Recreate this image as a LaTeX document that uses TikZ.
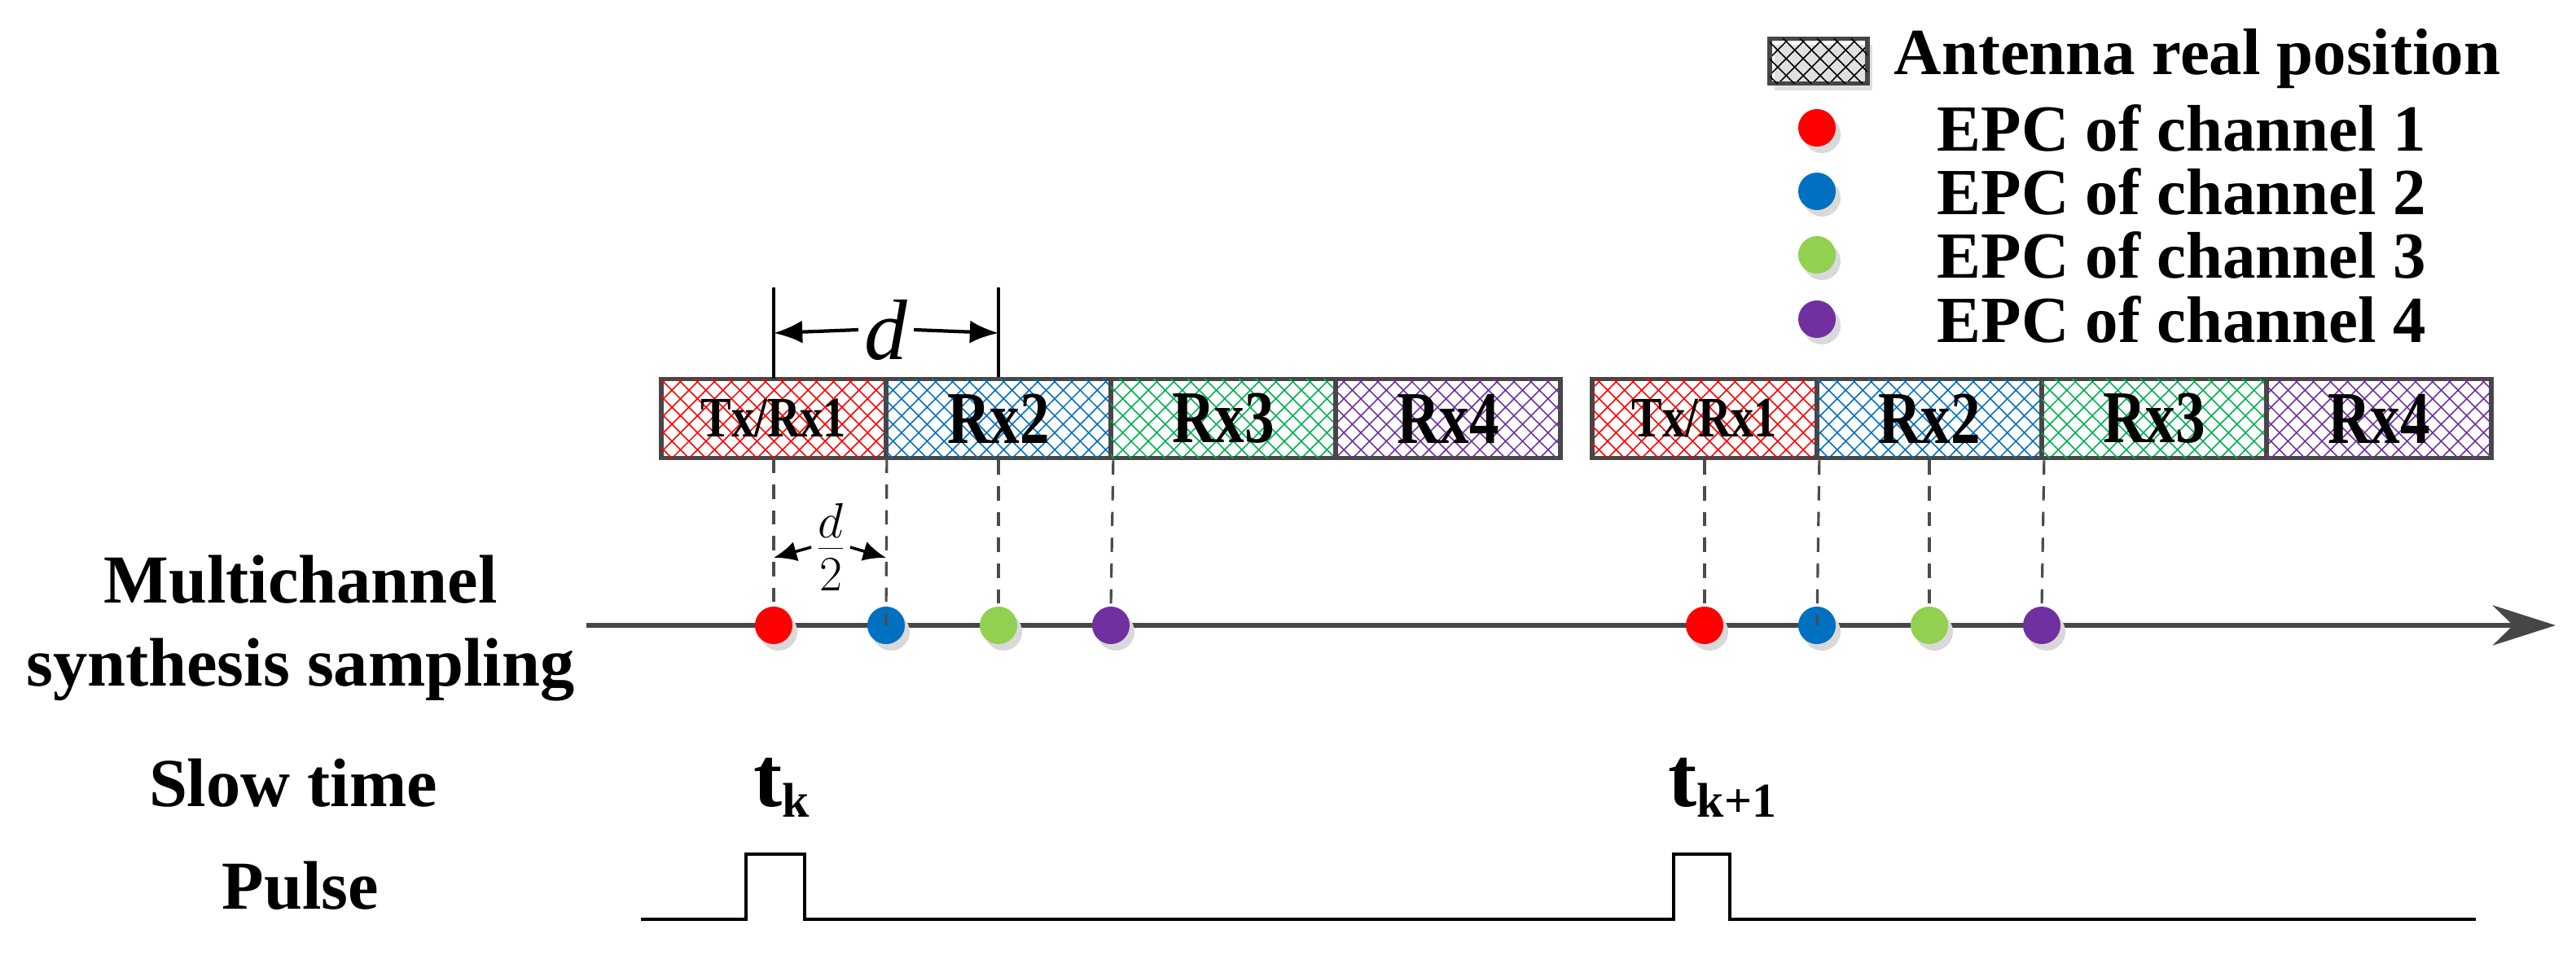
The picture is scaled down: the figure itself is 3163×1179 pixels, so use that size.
\documentclass[tikz,border=0pt]{standalone}
\usepackage{fontspec}
\setmainfont{Liberation Serif}
\usetikzlibrary{patterns.meta,arrows.meta}
\definecolor{cblue}{RGB}{0,112,192}
\definecolor{cgreen}{RGB}{0,176,80}
\definecolor{cpurple}{RGB}{112,48,160}
\definecolor{dgreen}{RGB}{146,208,80}
\definecolor{frame}{RGB}{70,70,70}
\begin{document}
\begin{tikzpicture}[x=0.01cm,y=-0.01cm,
  hatch/.style={pattern={Lines[angle=45,distance=4.2pt,line width=0.45pt]},pattern color=#1,
    postaction={pattern={Lines[angle=-45,distance=4.2pt,line width=0.45pt]},pattern color=#1}},
  box/.style={draw=frame,line width=1.6pt,minimum width=2.76cm,minimum height=0.97cm,inner sep=0pt,
    hatch=#1},
  btxt/.style={font=\fontsize{26}{26}\selectfont\bfseries,xscale=0.8},
  stxt/.style={font=\fontsize{20}{20}\selectfont\bfseries,xscale=0.8},
  dot/.style={circle,fill=#1,minimum size=0.46cm,inner sep=0pt,
    preaction={fill=black!15,transform canvas={shift={(0.06cm,-0.08cm)}}}},
  vdash/.style={draw=black!70,dashed,dash pattern=on 5pt off 4pt,line width=0.9pt},
  lab/.style={font=\fontsize{24}{29}\selectfont\bfseries,align=center,anchor=base},
  leg/.style={font=\fontsize{23}{26}\selectfont\bfseries,anchor=west,inner sep=0pt},
  tip/.style={-{Latex[length=10pt,width=8pt]}}]
\useasboundingbox (0,0) rectangle (3163,1179);
% boxes group 1
\node[box=red] (a1) at (950,514) {};
\node[box=cblue] (a2) at (1226,514) {};
\node[box=cgreen] (a3) at (1502,514) {};
\node[box=cpurple] (a4) at (1778,514) {};
% group 2
\node[box=red] (b1) at (2093,514) {};
\node[box=cblue] (b2) at (2369,514) {};
\node[box=cgreen] (b3) at (2645,514) {};
\node[box=cpurple] (b4) at (2921,514) {};
\node[stxt] at (a1) {Tx/Rx1};
\node[btxt] at (a2) {Rx2};
\node[btxt] at (a3) {Rx3};
\node[btxt] at (a4) {Rx4};
\node[stxt] at (b1) {Tx/Rx1};
\node[btxt] at (b2) {Rx2};
\node[btxt] at (b3) {Rx3};
\node[btxt] at (b4) {Rx4};
% axis
\coordinate (axs) at (720,768);
\coordinate (axe) at (3138,768);
\draw[frame,line width=1.7pt,-{Stealth[length=22pt,width=14pt]}] (axs) -- (axe);
% dots
\node[dot=red] (p1) at (950,768) {};
\node[dot=cblue] (p2) at (1088,768) {};
\node[dot=dgreen] (p3) at (1226,768) {};
\node[dot=cpurple] (p4) at (1364,768) {};
\node[dot=red] (q1) at (2093,768) {};
\node[dot=cblue] (q2) at (2231,768) {};
\node[dot=dgreen] (q3) at (2369,768) {};
\node[dot=cpurple] (q4) at (2507,768) {};
\draw[vdash] (a1.south) -- (p1.north);
\draw[vdash] (a1.south east) -- (p2.center);
\draw[vdash] (a2.south) -- (p3.north);
\draw[vdash] (a2.south east) -- (p4.north);
\draw[vdash] (b1.south) -- (q1.north);
\draw[vdash] (b1.south east) -- (q2.center);
\draw[vdash] (b2.south) -- (q3.north);
\draw[vdash] (b2.south east) -- (q4.north);
% d dimension
\coordinate (d1) at (950,353);
\coordinate (d2) at (1226,353);
\draw[line width=1.2pt] (d1) -- (a1.north);
\draw[line width=1.2pt] (d2) -- (a2.north);
\node[font=\fontsize{30}{32}\selectfont\itshape,fill=white,inner sep=2pt] (dl) at (1088,405) {d};
\draw[line width=1.2pt,tip] (dl.west) -- (950,409);
\draw[line width=1.2pt,tip] (dl.east) -- (1226,409);
% d/2
\node[font=\fontsize{24}{26}\selectfont,inner sep=1pt] (dh) at (1020,672) {$\frac{d}{2}$};
\draw[line width=1pt,-{Latex[length=8pt,width=7pt]}] (dh.west) -- (950,685);
\draw[line width=1pt,-{Latex[length=8pt,width=7pt]}] (dh.east) -- (1088,685);
% labels
\node[lab] (ml) at (369,842) {Multichannel\\synthesis sampling};
\node[lab] (st) at (360,990) {Slow time};
\node[lab] (pl) at (369,1116) {Pulse};
\node[font=\fontsize{30}{32}\selectfont\bfseries,anchor=base west,inner sep=0pt] (tk) at (925,990) {t\textsubscript{\fontsize{17}{17}\selectfont k}};
\node[font=\fontsize{30}{32}\selectfont\bfseries,anchor=base west,inner sep=0pt] (tk1) at (2048,990) {t\textsubscript{\fontsize{17}{17}\selectfont k+1}};
% pulse
\draw[line width=1.4pt] (787,1129) -- (916,1129) -- (916,1049) -- (988,1049) -- (988,1129)
  -- (2055,1129) -- (2055,1049) -- (2124,1049) -- (2124,1129) -- (3040,1129);
% legend
\node[draw=frame,line width=1.6pt,minimum width=1.2cm,minimum height=0.55cm,inner sep=0pt,
  hatch=black,
  preaction={fill=black!12,transform canvas={shift={(0.06cm,-0.08cm)}}}] (lg0) at (2233,75) {};
\node[leg] (lt0) at (2325,72) {Antenna real position};
\node[dot=red] (l1) at (2231,157) {};
\node[dot=cblue] (l2) at (2231,235) {};
\node[dot=dgreen] (l3) at (2231,313) {};
\node[dot=cpurple] (l4) at (2231,392) {};
\node[leg] (lt1) at (2378,157) {EPC of channel 1};
\node[leg] (lt2) at (2378,235) {EPC of channel 2};
\node[leg] (lt3) at (2378,313) {EPC of channel 3};
\node[leg] (lt4) at (2378,392) {EPC of channel 4};
\end{tikzpicture}
\end{document}
